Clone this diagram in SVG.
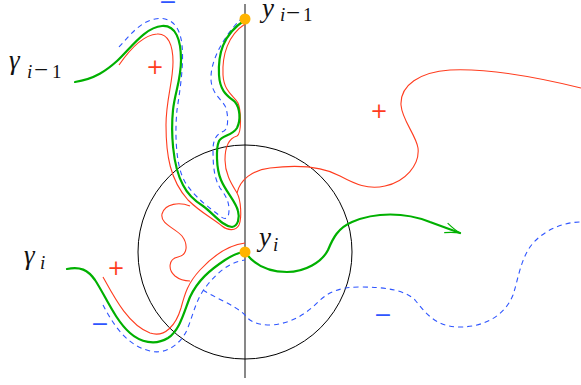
<svg xmlns="http://www.w3.org/2000/svg" width="581" height="385" viewBox="0 0 581 385">
<defs>
<style>
.g{fill:none;stroke:#00b000;stroke-width:2.2;stroke-linecap:round}
.r{fill:none;stroke:#ff3c1e;stroke-width:1.1}
.b{fill:none;stroke:#2e55ff;stroke-width:1.1;stroke-dasharray:5 4}
.lbl{font-style:italic;font-size:27px;fill:#111}
.sub{font-size:19px}
.up{font-style:normal}
.mn{font-style:normal;font-size:25px}
.plus{font-size:21px;fill:#ff3c1e;text-anchor:middle}
.minus{font-size:22px;fill:#2e55ff;text-anchor:middle}
.dot{fill:#ffb400}
</style>
<marker id="arr" markerUnits="userSpaceOnUse" markerWidth="20" markerHeight="14" refX="0" refY="0" viewBox="-17 -7 20 14" orient="auto">
<path d="M-15,-5 Q-6,-1 0,0 Q-6,1 -15,5" fill="none" stroke="#00b000" stroke-width="1.2"/>
</marker>
</defs>
<rect width="581" height="385" fill="#fff"/>

<g id="axis">
<line x1="245" y1="4" x2="245" y2="378" stroke="#555" stroke-width="1.4"/>
<circle cx="245" cy="252" r="107" fill="none" stroke="#000" stroke-width="1"/>
</g>

<g id="connectors">
<path class="r" d="M119,65 C128,52 142,35 157,34 C168,33 173,45 173,62 C173,82 166,100 166,125 C166,155 170,180 188,200 C200,212 212,218 222,226 C228,231 236,231 239,225 C242,218 241,200 237,193 C233,186 225,175 225,160 C225,145 230,138 237,136 C242,133 241,110 238,103 C234,96 224,92 223,75 C222,55 228,35 245,24"/>
<path class="r" d="M190,206 C180,202 165,203 162,214 C160,224 175,228 182,236 C188,244 188,255 178,257 C168,259 168,270 175,276 C180,280 186,281 190,281"/>
<path class="r" d="M103,277 C113,295 128,325 150,333 C165,338 176,325 181,308 C185,293 188,283 200,270 C212,257 228,245 245,243"/>
<path class="r" d="M237,193 C240,180 252,170 270,168 C295,165 320,165 340,176 C355,184 368,190 385,186 C405,182 420,165 418,148 C416,135 402,120 401,105 C400,85 420,72 450,70 C490,68 540,78 581,88"/>

<path class="b" d="M119,47 C130,35 140,22 155,19 C170,16 180,25 182,45 C184,65 180,90 177,110 C175,130 175,165 185,182 C195,198 210,208 220,216 C226,221 229,218 229,210 C229,200 225,195 220,188 C214,178 213,165 213,150 C213,140 216,134 224,131 C229,128 228,115 226,108 C223,100 212,95 211,80 C210,60 225,35 240,20"/>
<path class="b" d="M103,305 C112,322 125,345 150,351 C165,355 180,345 187,330 C193,315 196,300 205,288 C215,275 228,262 245,260"/>
<path class="b" d="M203,290 C215,298 235,305 245,315 C250,322 258,325 270,325 C290,324 305,315 318,302 C328,292 340,287 360,287 C385,287 405,290 415,300 C425,312 435,327 460,327 C485,327 505,315 513,295 C518,280 520,262 530,247 C540,233 560,222 581,222"/>

<path class="g" d="M75,82 C95,79 107,70 117,61 C130,49 145,27 162,26 C176,25 181,40 181,60 C181,80 175,92 173,110 C171,130 172,165 183,185 C188,195 195,201 203,206 C214,214 222,226 232,227 C238,226 240,218 238,211 C236,202 226,192 221,180 C216,168 216,148 219,141 C222,135 232,136 237,128 C241,120 240,108 235,102 C228,96 220,92 219,75 C218,55 222,35 245,20"/>
<path class="g" d="M67,269 C80,266 88,270 95,280 C105,295 115,320 130,333 C140,342 155,346 168,338 C180,330 184,312 190,297 C198,280 210,270 225,260 C233,255 240,252 245,252"/>
<path class="g" d="M245,252 C252,262 265,272 287,272 C305,272 322,262 328,250 C333,238 338,228 352,222 C375,212 405,212 430,222 L460,233" marker-end="url(#arr)"/>
</g>

<g id="node-yim1">
<circle class="dot" cx="245" cy="19" r="5.5"/>
<text class="lbl" font-family="Liberation Serif, DejaVu Serif, serif" x="262" y="17">y<tspan class="sub" x="280" y="21">i</tspan><tspan class="mn" x="286" y="21">−</tspan><tspan class="sub up" x="303" y="21">1</tspan></text>
</g>
<g id="node-yi">
<circle class="dot" cx="245" cy="252" r="5.5"/>
<text class="lbl" font-family="Liberation Serif, DejaVu Serif, serif" x="259" y="246">y<tspan class="sub" x="273" y="251">i</tspan></text>
</g>
<g id="node-gamma-im1">
<text class="lbl" font-family="Liberation Serif, DejaVu Serif, serif" x="9" y="69">γ<tspan class="sub" x="27" y="78">i</tspan><tspan class="mn" x="34" y="78">−</tspan><tspan class="sub up" x="52" y="78">1</tspan></text>
</g>
<g id="node-gamma-i">
<text class="lbl" font-family="Liberation Serif, DejaVu Serif, serif" x="24" y="264">γ<tspan class="sub" x="40" y="269">i</tspan></text>
</g>
<g id="signs" font-family="DejaVu Sans, sans-serif">
<text class="plus" x="155" y="74">+</text>
<text class="plus" x="116" y="275">+</text>
<text class="plus" x="379" y="118">+</text>
<text class="minus" x="168" y="9">−</text>
<text class="minus" x="100" y="331">−</text>
<text class="minus" x="383" y="322">−</text>
</g>
</svg>
